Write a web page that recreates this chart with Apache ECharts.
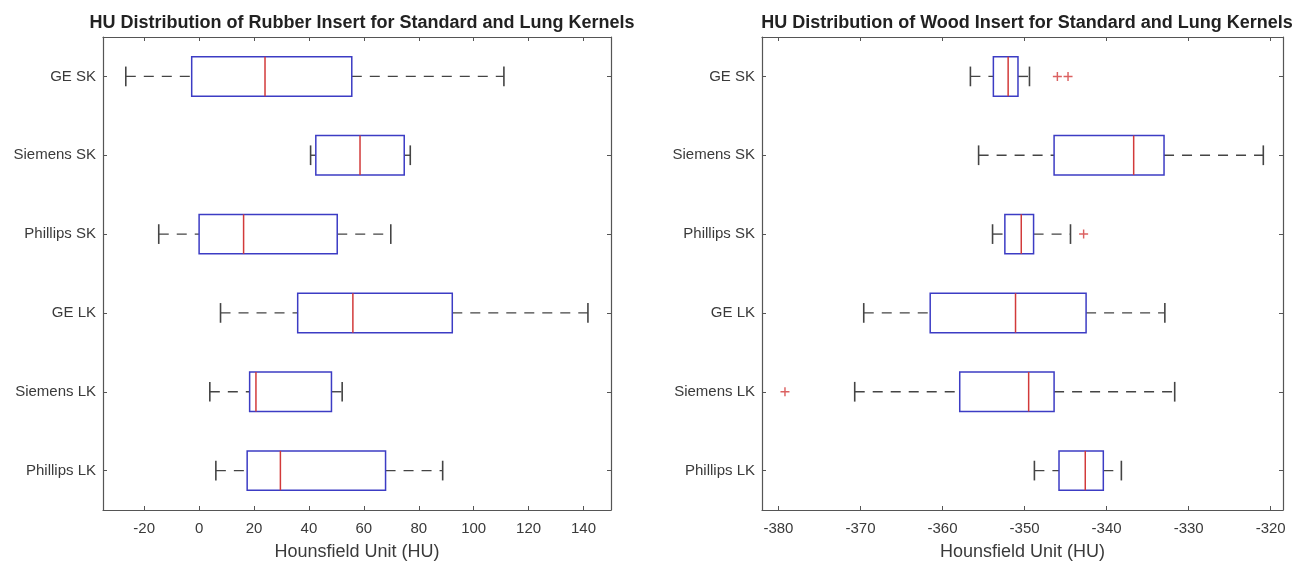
<!DOCTYPE html>
<html>
<head>
<meta charset="utf-8">
<script src="https://cdn.jsdelivr.net/npm/echarts@6/dist/echarts.min.js"></script>
<style>
    html, body { margin: 0; padding: 0; background: #fff; }
    #main { width: 1305px; height: 566px; }
</style>
</head>
<body>
<div id="main"></div>
<script>
// categories, top to bottom
var kernels = ['GE SK', 'Siemens SK', 'Phillips SK', 'GE LK', 'Siemens LK', 'Phillips LK'];

// rubber insert (left)
var rubberLow    = [-26.7, 40.6, -14.7,   7.8,  3.9,  6.1];
var rubberQ1     = [ -2.7, 42.5,   0.0,  35.9, 18.4, 17.5];
var rubberMedian = [ 24.0, 58.6,  16.2,  56.0, 20.7, 29.6];
var rubberQ3     = [ 55.6, 74.7,  50.3,  92.2, 48.2, 67.9];
var rubberHigh   = [111.0, 76.9,  69.8, 141.6, 52.1, 88.7];
var rubberOutliers = [];

// wood insert (right)
var woodLow    = [-356.6, -355.6, -353.9, -369.6, -370.7, -348.8];
var woodQ1     = [-353.8, -346.4, -352.4, -361.5, -357.9, -345.8];
var woodMedian = [-352.0, -336.7, -350.4, -351.1, -349.5, -342.6];
var woodQ3     = [-350.8, -333.0, -348.9, -342.5, -346.4, -340.4];
var woodHigh   = [-349.4, -320.9, -344.4, -332.9, -331.7, -338.2];
var woodOutliers = [[-346.0, 0], [-344.7, 0], [-342.8, 2], [-379.2, 4]];

var titles = [
    'HU Distribution of Rubber Insert for Standard and Lung Kernels',
    'HU Distribution of Wood Insert for Standard and Lung Kernels'
];
var xName = 'Hounsfield Unit (HU)';

var fontFam = '"Liberation Sans", Arial, Helvetica, sans-serif';
var axisColor = '#555';
var textColor = '#3a3a3a';
var boxColor = '#3c3cc4';
var medColor = '#d23a3a';
var whiskerColor = '#444';

function buildRows(low, q1, med, q3, high) {
    var rows = [];
    for (var i = 0; i < kernels.length; i++) {
        rows.push([i, low[i], q1[i], med[i], q3[i], high[i]]);
    }
    return rows;
}

function renderBox(params, api) {
    var idx = api.value(0);
    var pLow = api.coord([api.value(1), idx]);
    var pQ1 = api.coord([api.value(2), idx]);
    var pMed = api.coord([api.value(3), idx]);
    var pQ3 = api.coord([api.value(4), idx]);
    var pHigh = api.coord([api.value(5), idx]);
    var band = api.size([0, 1])[1];
    var half = band * 0.25;
    var cap = band * 0.125;
    var y = pMed[1];
    var dashStyle = { stroke: whiskerColor, lineWidth: 1.4, lineDash: [10, 8] };
    var solid = { stroke: whiskerColor, lineWidth: 1.6 };
    return {
        type: 'group',
        children: [
            { type: 'line', shape: { x1: pLow[0], y1: y, x2: pQ1[0], y2: y }, style: dashStyle },
            { type: 'line', shape: { x1: pQ3[0], y1: y, x2: pHigh[0], y2: y }, style: dashStyle },
            { type: 'line', shape: { x1: pLow[0], y1: y - cap, x2: pLow[0], y2: y + cap }, style: solid },
            { type: 'line', shape: { x1: pHigh[0], y1: y - cap, x2: pHigh[0], y2: y + cap }, style: solid },
            { type: 'rect', shape: { x: pQ1[0], y: y - half, width: pQ3[0] - pQ1[0], height: half * 2 },
              style: { fill: '#fff', stroke: boxColor, lineWidth: 1.5 } },
            { type: 'line', shape: { x1: pMed[0], y1: y - half, x2: pMed[0], y2: y + half },
              style: { stroke: medColor, lineWidth: 1.5 } }
        ]
    };
}

var plusSymbol = 'path://M0,4.2H10V5.8H0Z M4.2,0H5.8V10H4.2Z';

var myChart = echarts.init(document.getElementById('main'));

var grids = [
    { left: 103, right: 694, top: 37, bottom: 54 },
    { left: 762, right: 22, top: 37, bottom: 54 }
];

function valueAxis(gi, min, max, split, pos) {
    var bottom = pos === 'bottom';
    return {
        type: 'value', gridIndex: gi, position: pos, min: min, max: max, splitNumber: split,
        name: bottom ? xName : '', nameLocation: 'middle', nameGap: 33,
        nameTextStyle: { fontFamily: fontFam, fontSize: 18, color: textColor },
        axisLine: { show: true, onZero: false, lineStyle: { color: axisColor, width: 1.2 } },
        axisTick: { show: true, inside: true, length: 4, lineStyle: { color: axisColor } },
        axisLabel: { show: bottom, showMinLabel: false, showMaxLabel: false, margin: 11,
            fontFamily: fontFam, fontSize: 15, color: textColor },
        splitLine: { show: false }
    };
}

function catAxis(gi, pos) {
    var left = pos === 'left';
    return {
        type: 'category', gridIndex: gi, position: pos, data: kernels, inverse: true,
        axisLine: { show: true, onZero: false, lineStyle: { color: axisColor, width: 1.2 } },
        axisTick: { show: true, inside: true, alignWithLabel: true, length: 4, lineStyle: { color: axisColor } },
        axisLabel: { show: left, margin: 7, fontFamily: fontFam, fontSize: 15, color: textColor },
        splitLine: { show: false }
    };
}

myChart.setOption({
    backgroundColor: '#fff',
    animation: false,
    title: [
        { text: titles[0], left: 357, top: 9, textAlign: 'center',
          textStyle: { fontFamily: fontFam, fontSize: 18, fontWeight: 'bold', color: '#222' } },
        { text: titles[1], left: 1022, top: 9, textAlign: 'center',
          textStyle: { fontFamily: fontFam, fontSize: 18, fontWeight: 'bold', color: '#222' } }
    ],
    grid: grids,
    xAxis: [
        valueAxis(0, -35, 150, 9, 'bottom'),
        valueAxis(0, -35, 150, 9, 'top'),
        valueAxis(1, -382, -318.5, 6, 'bottom'),
        valueAxis(1, -382, -318.5, 6, 'top')
    ],
    yAxis: [
        catAxis(0, 'left'),
        catAxis(0, 'right'),
        catAxis(1, 'left'),
        catAxis(1, 'right')
    ],
    series: [
        {
            type: 'custom', xAxisIndex: 0, yAxisIndex: 0,
            data: buildRows(rubberLow, rubberQ1, rubberMedian, rubberQ3, rubberHigh),
            encode: { x: [1, 2, 3, 4, 5], y: 0 },
            renderItem: renderBox
        },
        {
            type: 'custom', xAxisIndex: 2, yAxisIndex: 2,
            data: buildRows(woodLow, woodQ1, woodMedian, woodQ3, woodHigh),
            encode: { x: [1, 2, 3, 4, 5], y: 0 },
            renderItem: renderBox
        },
        {
            type: 'scatter', xAxisIndex: 0, yAxisIndex: 0,
            data: rubberOutliers, symbol: plusSymbol, symbolSize: 9,
            itemStyle: { color: medColor }
        },
        {
            type: 'scatter', xAxisIndex: 2, yAxisIndex: 2,
            data: woodOutliers, symbol: plusSymbol, symbolSize: 9,
            itemStyle: { color: medColor }
        }
    ]
});
</script>
</body>
</html>
